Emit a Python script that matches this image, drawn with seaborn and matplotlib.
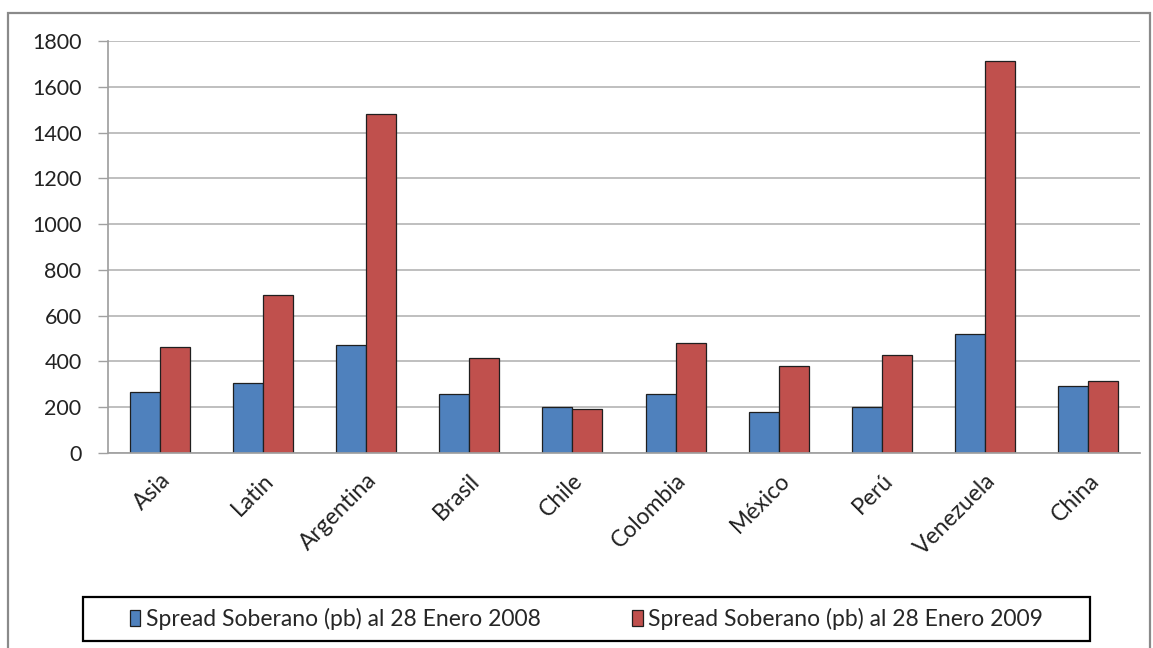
import matplotlib
matplotlib.use("Agg")
import matplotlib.pyplot as plt
import seaborn as sns
import pandas as pd
import numpy as np
from matplotlib.patches import Rectangle

categories = ["Asia", "Latin", "Argentina", "Brasil", "Chile", "Colombia",
              "México", "Perú", "Venezuela", "China"]
spread_2008 = [265, 305, 470, 258, 200, 258, 180, 200, 522, 293]
spread_2009 = [465, 690, 1480, 415, 192, 481, 378, 428, 1712, 315]
series_names = ["Spread Soberano (pb) al 28 Enero 2008",
                "Spread Soberano (pb) al 28 Enero 2009"]
yticks = [0, 200, 400, 600, 800, 1000, 1200, 1400, 1600, 1800]

df = pd.DataFrame({
    "cat": categories * 2,
    "val": spread_2008 + spread_2009,
    "serie": [series_names[0]] * len(categories) + [series_names[1]] * len(categories),
})

sns.set_theme(style="white")
plt.rcParams["font.family"] = ["Lato", "DejaVu Sans"]

W, H = 1153, 648
fig = plt.figure(figsize=(W / 100, H / 100), dpi=100)
ax = fig.add_axes([108 / W, 1 - 453 / H, (1140 - 108) / W, (453 - 41) / H])

sns.barplot(data=df, x="cat", y="val", hue="serie", order=categories,
            hue_order=series_names, palette=["#4F81BD", "#C0504D"],
            width=0.58, gap=0, edgecolor="#1f1f1f", linewidth=0.9,
            saturation=1, ax=ax, legend=True)

ax.set_ylim(0, 1800)
ax.set_xlim(-0.5, len(categories) - 0.5)
ax.set_yticks(yticks)
ax.set_yticklabels([str(v) for v in yticks], fontsize=15.5, color="#222222")
ax.yaxis.grid(True, color="#b4b4b4", linewidth=1.2)
ax.set_axisbelow(True)
ax.set_xlabel("")
ax.set_ylabel("")
for s in ["top", "right"]:
    ax.spines[s].set_visible(False)
ax.spines["left"].set_color("#a0a0a0")
ax.spines["bottom"].set_color("#a0a0a0")

ax.set_xticks(np.arange(len(categories)))
ax.set_xticklabels(categories, rotation=45, ha="right", rotation_mode="anchor",
                   fontsize=16.5, color="#222222")
ax.tick_params(axis="x", length=0, pad=12)
ax.set_xticks(np.arange(-0.5, len(categories), 1), minor=True)
ax.tick_params(axis="x", which="minor", length=6, color="#a0a0a0", width=1, direction="out")
ax.tick_params(axis="y", length=7, color="#a0a0a0", width=1, direction="out", left=True, pad=12)

handles, labels = ax.get_legend_handles_labels()
ax.get_legend().remove()
leg = fig.legend(handles, labels, loc="center",
                 bbox_to_anchor=(83 / W, 1 - 641 / H, (1090 - 83) / W, (641 - 597) / H),
                 ncol=2, frameon=False, fontsize=16.5,
                 handlelength=0.45, handleheight=0.65, handletextpad=0.25, columnspacing=4.0,
                 borderaxespad=0)

fig.patches.append(Rectangle((83 / W, 1 - 641 / H), (1090 - 83) / W, (641 - 597) / H,
                             transform=fig.transFigure, fill=False, edgecolor="black",
                             linewidth=1.6, zorder=5))

fig.patches.append(Rectangle((8 / W, -0.05), (1150 - 8) / W, 1 - 13 / H + 0.05,
                             transform=fig.transFigure, fill=False, edgecolor="#8a8a8a",
                             linewidth=1.6, zorder=0))

fig.savefig("out.png", dpi=100)
